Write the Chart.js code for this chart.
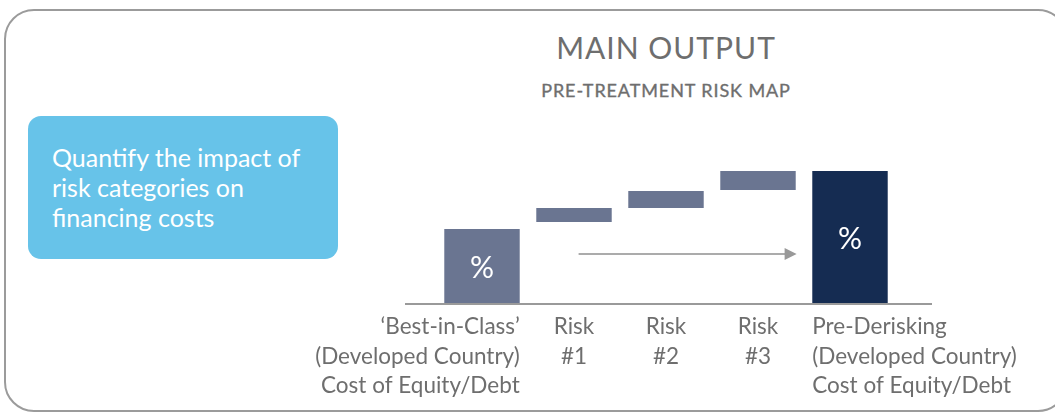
<!DOCTYPE html>
<html>
<head>
<meta charset="utf-8">
<script src="https://cdn.jsdelivr.net/npm/chart.js@4.4.1/dist/chart.umd.min.js"></script>
<style>
  html, body { margin: 0; padding: 0; background: #fff; }
  body { width: 1055px; height: 412px; position: relative; overflow: hidden; font-family: Lato, "Open Sans", sans-serif; }
  .frame { position: absolute; left: 4px; top: 9px; width: 1060px; height: 399px; border: 2px solid #9b9b9b; border-radius: 30px; }
  .title { position: absolute; left: 466px; width: 400px; text-align: center; color: #6e6e6e; white-space: nowrap; }
  .t1 { top: 29px; font-size: 30px; letter-spacing: 1px; }
  .t2 { top: 79px; font-size: 18px; letter-spacing: 0.9px; -webkit-text-stroke: 0.35px #6e6e6e; }
  .note { position: absolute; left: 28px; top: 116px; width: 310px; height: 143px; background: #67c3e9; border-radius: 13px; }
  .note p { margin: 0; position: absolute; left: 24px; top: 26px; color: #fff; font-size: 25px; line-height: 30px; }
  canvas { position: absolute; left: 0; top: 0; }
</style>
</head>
<body>
<div class="frame"></div>
<div class="title t1">MAIN OUTPUT</div>
<div class="title t2">PRE-TREATMENT RISK MAP</div>
<div class="note"><p>Quantify the impact of<br>risk categories on<br>financing costs</p></div>
<canvas id="grafico" width="1055" height="412"></canvas>
<script>
// categorias (cada una en varias lineas)
const categorias = [
    ["\u2018Best-in-Class\u2019", "(Developed Country)", "Cost of Equity/Debt"],
    ["Risk", "#1"],
    ["Risk", "#2"],
    ["Risk", "#3"],
    ["Pre-Derisking", "(Developed Country)", "Cost of Equity/Debt"],
];
// inicio y fin de cada barra (escala arbitraria, sin valores en el original)
const inicio = [0, 8.1, 9.5, 11.3, 0];
const fin = [7.4, 9.5, 11.2, 13.2, 13.2];
const etiquetas = ["%", "", "", "", "%"];
const colores = ["#6a7591", "#6a7591", "#6a7591", "#6a7591", "#152c52"];
// flecha: desde la categoria 1 hasta antes de la ultima, a esta altura
const flecha = { desde: 1.05, hasta: 3.42, y: 4.9 };

const ctx = document.getElementById("grafico").getContext("2d");
const fuente = "Lato, 'Open Sans', sans-serif";

const pluginDibujos = {
    id: "dibujos",
    afterDatasetsDraw: (chart) => {
        const c = chart.ctx;
        const area = chart.chartArea;
        const xs = chart.scales.x;
        const ys = chart.scales.y;
        const barras = chart.getDatasetMeta(0).data;

        // linea base
        c.save();
        c.strokeStyle = "#9a9a9a";
        c.lineWidth = 2;
        c.beginPath();
        c.moveTo(area.left - 31, area.bottom + 1);
        c.lineTo(area.right + 36, area.bottom + 1);
        c.stroke();

        // flecha
        const x1 = xs.getPixelForValue(flecha.desde);
        const x2 = xs.getPixelForValue(flecha.hasta);
        const yf = ys.getPixelForValue(flecha.y);
        c.strokeStyle = "#8f8f8f";
        c.lineWidth = 1.3;
        c.beginPath();
        c.moveTo(x1, yf);
        c.lineTo(x2 - 10, yf);
        c.stroke();
        c.fillStyle = "#999999";
        c.beginPath();
        c.moveTo(x2, yf);
        c.lineTo(x2 - 12, yf - 6);
        c.lineTo(x2 - 12, yf + 6);
        c.closePath();
        c.fill();

        // % dentro de las barras
        c.fillStyle = "#ffffff";
        c.font = "30px " + fuente;
        c.textAlign = "center";
        c.textBaseline = "middle";
        barras.forEach((b, i) => {
            if (!etiquetas[i]) return;
            c.fillText(etiquetas[i], b.x, (b.y + b.base) / 2 + 2);
        });

        // etiquetas de categoria
        c.fillStyle = "#6e6e6e";
        c.font = "22.5px " + fuente;
        barras.forEach((b, i) => {
            let x = b.x;
            c.textAlign = "center";
            if (i === 0) {
                c.textAlign = "right";
                x = b.x + b.width / 2;
            } else if (i === categorias.length - 1) {
                c.textAlign = "left";
                x = b.x - b.width / 2;
            }
            categorias[i].forEach((linea, j) => {
                c.fillText(linea, x, area.bottom + 24 + j * 29.5);
            });
        });
        c.restore();
    },
};

new Chart(ctx, {
    type: "bar",
    data: {
        labels: categorias,
        datasets: [
            {
                data: inicio.map((v, i) => [v, fin[i]]),
                backgroundColor: colores,
                borderWidth: 0,
                categoryPercentage: 1,
                barPercentage: 0.82,
            },
        ],
    },
    options: {
        responsive: false,
        animation: false,
        events: [],
        layout: {
            padding: { left: 436, right: 159, top: 160, bottom: 109 },
        },
        plugins: {
            legend: { display: false },
            tooltip: { enabled: false },
        },
        scales: {
            x: { display: false },
            y: { display: false, min: 0, max: 14.3 },
        },
    },
    plugins: [pluginDibujos],
});
</script>
</body>
</html>
